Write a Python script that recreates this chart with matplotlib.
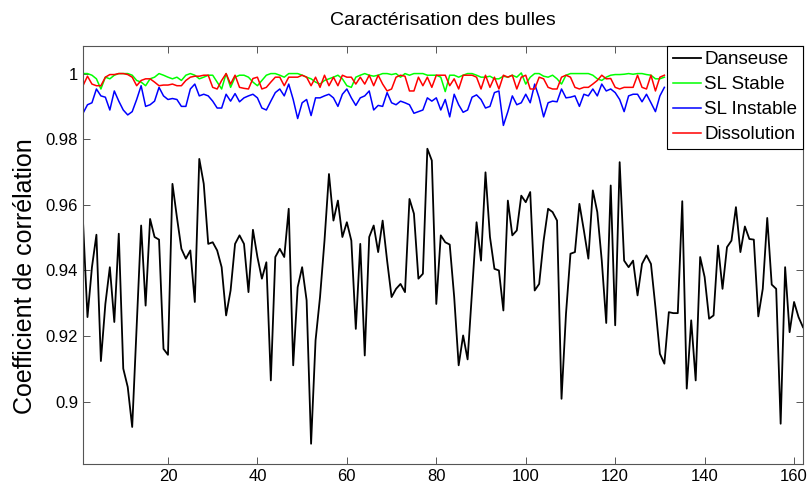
import numpy as np
import matplotlib
matplotlib.use('Agg')
import matplotlib.pyplot as plt

plt.rcParams['font.family'] = ['Liberation Sans', 'DejaVu Sans']

# Danseuse (black), 162 images
danseuse = [
    0.9549, 0.9258, 0.9410, 0.9509, 0.9124, 0.9298, 0.9410, 0.9243, 0.9512, 0.9101,
    0.9045, 0.8923, 0.9230, 0.9537, 0.9293, 0.9557, 0.9502, 0.9494, 0.9161, 0.9143,
    0.9664, 0.9562, 0.9466, 0.9436, 0.9461, 0.9304, 0.9740, 0.9664, 0.9481, 0.9486,
    0.9461, 0.9410, 0.9263, 0.9339, 0.9481, 0.9507, 0.9481, 0.9334, 0.9524, 0.9441,
    0.9375, 0.9425, 0.9065, 0.9441, 0.9466, 0.9441, 0.9588, 0.9111, 0.9349, 0.9410,
    0.9309, 0.8872, 0.9187, 0.9319, 0.9491, 0.9694, 0.9552, 0.9613, 0.9502, 0.9547,
    0.9491, 0.9222, 0.9481, 0.9141, 0.9502, 0.9537, 0.9456, 0.9552, 0.9430, 0.9319,
    0.9344, 0.9359, 0.9334, 0.9618, 0.9573, 0.9375, 0.9390, 0.9771, 0.9735, 0.9298,
    0.9507, 0.9486, 0.9479, 0.9319, 0.9111, 0.9202, 0.9129, 0.9339, 0.9547, 0.9430,
    0.9699, 0.9502, 0.9405, 0.9400, 0.9278, 0.9613, 0.9507, 0.9522, 0.9628, 0.9608,
    0.9639, 0.9339, 0.9359, 0.9491, 0.9588, 0.9578, 0.9552, 0.9009, 0.9268, 0.9451,
    0.9456, 0.9603, 0.9522, 0.9436, 0.9644, 0.9578, 0.9430, 0.9240, 0.9659, 0.9233,
    0.9730, 0.9430, 0.9410, 0.9430, 0.9324, 0.9420, 0.9446, 0.9420, 0.9288, 0.9146,
    0.9116, 0.9273, 0.9270, 0.9270, 0.9611, 0.9040, 0.9248, 0.9065, 0.9441, 0.9380,
    0.9253, 0.9263, 0.9476, 0.9344, 0.9471, 0.9491, 0.9593, 0.9456, 0.9534, 0.9496,
    0.9494, 0.9260, 0.9344, 0.9560, 0.9357, 0.9344, 0.8933, 0.9410, 0.9212, 0.9304,
    0.9258, 0.9227,
]

sl_stable = [
    1.0000, 1.0000, 0.9995, 0.9984, 0.9953, 0.9989, 0.9984, 0.9995, 1.0000, 1.0000,
    1.0000, 0.9995, 0.9979, 0.9974, 0.9963, 0.9984, 0.9989, 1.0000, 0.9995, 0.9989,
    0.9984, 0.9989, 0.9979, 0.9995, 1.0000, 0.9995, 0.9984, 0.9989, 0.9995, 0.9995,
    0.9974, 0.9953, 1.0000, 0.9958, 0.9989, 0.9995, 0.9995, 0.9989, 0.9974, 0.9963,
    0.9979, 0.9995, 1.0000, 1.0000, 0.9995, 0.9989, 1.0000, 1.0000, 1.0000, 0.9995,
    0.9989, 0.9984, 0.9974, 0.9968, 0.9979, 0.9984, 0.9989, 0.9995, 0.9984, 0.9963,
    0.9958, 0.9989, 0.9995, 1.0000, 0.9995, 0.9992, 0.9995, 1.0000, 1.0000, 0.9997,
    1.0000, 0.9989, 1.0000, 0.9995, 1.0000, 1.0000, 1.0000, 0.9995, 0.9995, 0.9995,
    0.9989, 0.9945, 0.9995, 0.9995, 0.9989, 0.9995, 1.0000, 1.0000, 0.9995, 0.9989,
    0.9989, 0.9992, 0.9984, 0.9984, 0.9992, 0.9989, 0.9995, 0.9989, 1.0002, 0.9968,
    0.9989, 1.0000, 1.0000, 0.9992, 0.9989, 0.9995, 0.9984, 0.9968, 0.9995, 1.0000,
    1.0000, 1.0000, 1.0000, 1.0000, 0.9995, 0.9984, 0.9979, 0.9989, 0.9995, 0.9997,
    0.9997, 0.9998, 1.0000, 0.9998, 1.0000, 1.0000, 0.9997, 0.9995, 0.9984, 0.9984,
    0.9989,
]

sl_instable = [
    0.9879, 0.9905, 0.9911, 0.9953, 0.9932, 0.9928, 0.9889, 0.9947, 0.9916, 0.9889,
    0.9874, 0.9884, 0.9921, 0.9963, 0.9900, 0.9905, 0.9916, 0.9958, 0.9932, 0.9921,
    0.9924, 0.9921, 0.9900, 0.9900, 0.9953, 0.9968, 0.9932, 0.9937, 0.9932, 0.9916,
    0.9895, 0.9895, 0.9937, 0.9916, 0.9939, 0.9914, 0.9926, 0.9932, 0.9937, 0.9926,
    0.9895, 0.9889, 0.9916, 0.9942, 0.9953, 0.9932, 0.9968, 0.9921, 0.9863, 0.9911,
    0.9921, 0.9872, 0.9926, 0.9926, 0.9932, 0.9937, 0.9926, 0.9900, 0.9937, 0.9953,
    0.9926, 0.9903, 0.9926, 0.9932, 0.9947, 0.9889, 0.9903, 0.9900, 0.9942, 0.9911,
    0.9905, 0.9916, 0.9911, 0.9905, 0.9879, 0.9884, 0.9889, 0.9926, 0.9916, 0.9926,
    0.9889, 0.9921, 0.9868, 0.9937, 0.9905, 0.9882, 0.9889, 0.9928, 0.9935, 0.9921,
    0.9895, 0.9900, 0.9942, 0.9947, 0.9842, 0.9884, 0.9932, 0.9905, 0.9911, 0.9937,
    0.9911, 0.9968, 0.9926, 0.9868, 0.9911, 0.9916, 0.9914, 0.9953, 0.9926, 0.9928,
    0.9932, 0.9900, 0.9937, 0.9932, 0.9953, 0.9932, 0.9968, 0.9947, 0.9953, 0.9942,
    0.9921, 0.9884, 0.9932, 0.9937, 0.9937, 0.9914, 0.9937, 0.9911, 0.9884, 0.9932,
    0.9958,
]

dissolution = [
    0.9963, 0.9992, 0.9968, 0.9963, 0.9963, 0.9989, 0.9997, 0.9997, 1.0000, 1.0000,
    0.9997, 0.9989, 0.9963, 0.9979, 0.9984, 0.9984, 0.9974, 0.9963, 0.9965, 0.9965,
    0.9968, 0.9963, 0.9963, 0.9979, 0.9989, 0.9992, 0.9992, 0.9995, 0.9995, 0.9958,
    0.9953, 0.9979, 1.0000, 0.9968, 0.9995, 0.9958, 0.9955, 0.9953, 0.9985, 0.9989,
    0.9953, 0.9958, 0.9974, 0.9989, 0.9989, 0.9963, 0.9989, 0.9989, 0.9989, 0.9995,
    0.9989, 0.9963, 0.9989, 0.9958, 0.9995, 0.9963, 0.9989, 0.9963, 0.9995, 0.9989,
    0.9989, 0.9968, 0.9989, 0.9968, 0.9995, 0.9963, 0.9995, 0.9968, 0.9947, 0.9953,
    0.9989, 0.9995, 0.9992, 0.9947, 0.9947, 0.9989, 0.9963, 0.9989, 0.9958, 0.9995,
    0.9995, 0.9995, 0.9963, 0.9984, 0.9953, 0.9995, 0.9995, 0.9995, 0.9989, 0.9953,
    0.9995, 0.9958, 0.9989, 0.9953, 0.9995, 0.9989, 0.9995, 0.9953, 0.9989, 0.9995,
    0.9953, 0.9953, 0.9989, 0.9984, 0.9958, 0.9953, 0.9953, 0.9989, 0.9995, 0.9989,
    0.9958, 0.9953, 0.9958, 0.9958, 0.9968, 0.9979, 0.9995, 0.9984, 0.9985, 0.9958,
    0.9953, 0.9958, 0.9958, 0.9958, 0.9995, 0.9958, 0.9953, 0.9995, 0.9947, 0.9989,
    0.9995,
]

xticks = [20, 40, 60, 80, 100, 120, 140, 160]
yticks = [0.9, 0.92, 0.94, 0.96, 0.98, 1.0]
ytick_labels = ['0.9', '0.92', '0.94', '0.96', '0.98', '1']

fig = plt.figure(figsize=(8.09, 4.88), dpi=100)
ax = fig.add_axes([0.1026, 0.049, 0.89, 0.8574])

ax.plot(np.arange(1, len(danseuse) + 1), danseuse, color='black', lw=1.3, label='Danseuse')
ax.plot(np.arange(1, len(sl_stable) + 1), sl_stable, color=(0, 1, 0), lw=1.1, label='SL Stable')
ax.plot(np.arange(1, len(sl_instable) + 1), sl_instable, color=(0, 0, 1), lw=1.1, label='SL Instable')
ax.plot(np.arange(1, len(dissolution) + 1), dissolution, color=(1, 0, 0), lw=1.1, label='Dissolution')

ax.set_xlim(1, 162)
ax.set_ylim(0.881, 1.0085)
ax.set_xticks(xticks)
ax.set_yticks(yticks)
ax.set_yticklabels(ytick_labels)
ax.tick_params(direction='in', length=5, width=0.7, top=True, right=True,
               labelsize=12, colors='#555555', labelcolor='black')
for s in ax.spines.values():
    s.set_color('#555555')
    s.set_linewidth(0.8)

ax.set_title('Caractérisation des bulles', fontsize=14, pad=15)
ax.set_ylabel('Coefficient de corrélation', fontsize=18, labelpad=5)
ax.yaxis.set_label_coords(-0.064, 0.45)

leg = ax.legend(loc='upper right', borderaxespad=0, fancybox=False, framealpha=1,
                edgecolor='black', fontsize=13.5, handlelength=1.5, handletextpad=0.2,
                labelspacing=0.42, borderpad=0.3)
leg.get_frame().set_linewidth(0.8)

fig.savefig('out.png', dpi=100)
